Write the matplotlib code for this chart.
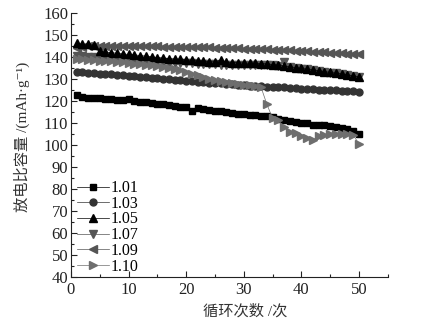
import numpy as np
import matplotlib
matplotlib.use('Agg')
import matplotlib.pyplot as plt
from matplotlib.ticker import MultipleLocator

plt.rcParams['font.family'] = ['Liberation Serif', 'Noto Sans CJK SC', 'DejaVu Serif']

# === Data ===
cycles = list(range(1, 51))

cap_101 = [122.7, 121.8, 121.6, 121.5, 121.3, 121.0, 120.8, 120.5, 120.6, 120.9,
           119.8, 119.5, 119.4, 119.0, 118.8, 118.5, 118.0, 117.8, 117.5, 117.4,
           115.6, 116.7, 116.3, 116.0, 115.6, 115.3, 114.8, 114.5, 114.3, 114.0,
           113.8, 113.6, 113.3, 113.0, 112.6, 112.0, 111.5, 111.0, 110.6, 110.2,
           109.9, 109.0, 109.2, 108.9, 108.5, 108.0, 107.6, 107.1, 106.5, 105.2]

cap_103 = [133.3, 133.1, 132.9, 132.7, 132.5, 132.3, 132.1, 131.9, 131.7, 131.5,
           131.3, 131.1, 130.9, 130.7, 130.4, 130.1, 129.8, 129.6, 129.4, 129.2,
           129.0, 128.8, 128.6, 128.4, 128.2, 128.0, 127.8, 127.6, 127.4, 127.2,
           127.0, 126.9, 126.8, 126.6, 126.5, 126.4, 126.2, 126.0, 125.8, 125.6,
           125.5, 125.4, 125.2, 125.0, 124.9, 124.8, 124.6, 124.5, 124.4, 124.2]

cap_105 = [146.2, 145.8, 145.8, 145.3, 142.6, 142.3, 142.0, 141.7, 141.4, 141.2,
           141.0, 140.7, 140.4, 140.1, 139.8, 139.5, 139.3, 139.1, 138.9, 138.7,
           138.5, 138.3, 138.1, 137.9, 137.8, 138.6, 137.6, 137.5, 137.4, 137.3,
           137.2, 137.1, 137.0, 136.9, 136.6, 136.3, 136.0, 135.6, 135.2, 134.8,
           134.5, 134.1, 133.8, 133.4, 133.0, 132.7, 132.3, 131.9, 131.5, 131.0]

cap_107 = [140.5, 140.3, 140.1, 139.9, 139.7, 139.5, 139.3, 139.1, 138.9, 138.7,
           138.5, 138.3, 138.1, 137.9, 137.8, 137.6, 137.5, 137.4, 137.3, 137.2,
           137.1, 137.0, 136.9, 136.8, 136.7, 136.6, 136.4, 136.5, 136.6, 136.6,
           136.6, 136.5, 136.5, 136.4, 136.3, 136.1, 137.9, 135.5, 135.1, 134.7,
           134.4, 134.0, 133.7, 133.3, 132.9, 132.6, 132.2, 131.8, 131.4, 130.9]

cap_109 = [144.0, 144.6, 145.0, 145.1, 145.2, 145.2, 145.1, 145.1, 145.0, 145.0,
           145.0, 145.0, 144.9, 144.9, 144.9, 144.8, 144.8, 144.7, 144.7, 144.6,
           144.6, 144.5, 144.5, 144.4, 144.3, 144.2, 144.1, 144.0, 143.9, 143.8,
           143.7, 143.6, 143.5, 143.5, 143.4, 143.3, 143.1, 143.0, 142.9, 142.8,
           142.6, 142.5, 142.3, 142.2, 142.0, 141.9, 141.7, 141.6, 141.4, 141.2]

cap_110 = [139.2, 139.0, 138.8, 138.6, 138.4, 138.2, 138.0, 137.8, 137.6, 137.3,
           137.0, 136.8, 136.5, 136.2, 135.9, 135.5, 135.1, 134.6, 134.0, 133.4,
           132.5, 131.7, 130.9, 130.2, 129.5, 128.9, 128.5, 128.1, 127.8, 127.5,
           127.2, 126.9, 126.3, 118.6, 112.2, 111.2, 108.3, 106.0, 105.3, 104.2,
           103.2, 102.3, 104.0, 104.5, 105.0, 105.1, 105.0, 105.0, 104.5, 100.5]

labels = ['1.01', '1.03', '1.05', '1.07', '1.09', '1.10']
series = [cap_101, cap_103, cap_105, cap_107, cap_109, cap_110]
markers = ['s', 'o', '^', 'v', '<', '>']
colors = ['#000000', '#333333', '#000000', '#555555', '#555555', '#6e6e6e']
sizes = [4.8, 5.0, 5.6, 5.6, 5.6, 5.6]
zorders = [3, 3, 4, 3, 3, 5]

fig = plt.figure(figsize=(4.22, 3.27), dpi=100)
ax = fig.add_axes([0.168, 0.153, 0.751, 0.807])

for y, lab, m, c, ms, z in zip(series, labels, markers, colors, sizes, zorders):
    ax.plot(cycles, y, color=c, lw=0.5, marker=m, ms=ms, mec=c, mfc=c,
            label=lab, zorder=z)

ax.set_xlim(0, 55)
ax.set_ylim(40, 160)
ax.xaxis.set_major_locator(MultipleLocator(10))
ax.xaxis.set_minor_locator(MultipleLocator(5))
ax.yaxis.set_major_locator(MultipleLocator(10))
ax.yaxis.set_minor_locator(MultipleLocator(5))
ax.tick_params(which='both', direction='in', labelsize=12, color='#222222',
               labelcolor='#222222')
ax.tick_params(axis='y', pad=2)
ax.tick_params(which='major', length=4, width=0.8)
ax.tick_params(which='minor', length=2.5, width=0.8)
ax.spines['top'].set_visible(False)
ax.spines['right'].set_visible(False)
for s in ['left', 'bottom']:
    ax.spines[s].set_linewidth(0.8)
    ax.spines[s].set_color('#222222')

ax.set_xlabel('循环次数 /次', fontsize=11, color='#333333')
ax.xaxis.set_label_coords(0.55, -0.105)
ax.set_ylabel('放电比容量 /(mAh·g⁻¹)', fontsize=11, color='#333333')
ax.yaxis.set_label_coords(-0.13, 0.53)

ax.legend(loc='lower left', bbox_to_anchor=(-0.012, -0.027), frameon=False,
          fontsize=11.5, handlelength=2.0, handletextpad=0.1,
          labelspacing=-0.02, borderaxespad=0.2)

plt.savefig('out.png', dpi=100)
plt.close()
